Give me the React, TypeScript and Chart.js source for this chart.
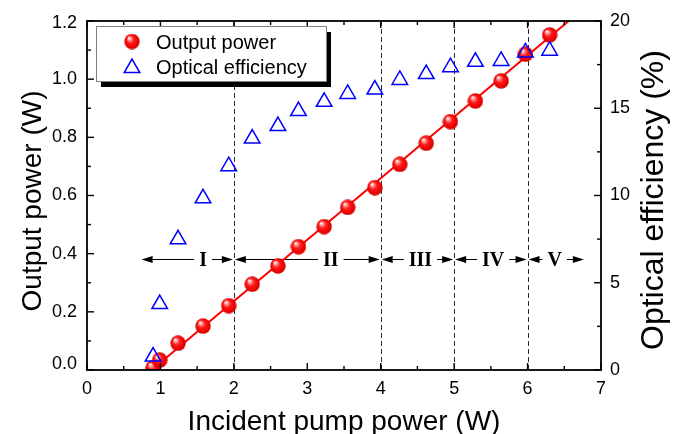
import React, { useEffect, useRef } from 'react';
import { Chart, registerables } from 'chart.js';

Chart.register(...registerables);

// ---- data ----
const pumpPower = [0.9, 0.99, 1.24, 1.58, 1.93, 2.25, 2.6, 2.88, 3.23, 3.55, 3.92, 4.26, 4.62, 4.95, 5.29, 5.64, 5.97, 6.3];
const outputPower = [0.007, 0.034, 0.092, 0.151, 0.221, 0.295, 0.358, 0.424, 0.493, 0.559, 0.627, 0.707, 0.78, 0.854, 0.925, 0.994, 1.086, 1.152];
const efficiency = [0.77, 3.78, 7.49, 9.84, 11.68, 13.26, 13.98, 14.84, 15.37, 15.82, 16.07, 16.62, 16.96, 17.35, 17.66, 17.71, 18.2, 18.3];
const fitPump = [0.88, 6.56];
const fitOutput = [0, 1.2];

const regionNames = ['I', 'II', 'III', 'IV', 'V'];
const regionStart = [0.73, 2, 4, 5, 6];
const regionEnd = [2, 4, 5, 6, 6.78];
const regionLabelPos = [1.58, 3.32, 4.54, 5.53, 6.37];
const regionArrowLevel = 0.38;
const dividers = [2, 4, 5, 6];

const legendLabels = ['Output power', 'Optical efficiency'];
const xTitle = 'Incident pump power (W)';
const yTitle = 'Output power (W)';
const y1Title = 'Optical efficiency (%)';

const SANS = '"Liberation Sans", Arial, sans-serif';
const SERIF = '"Liberation Serif", "Times New Roman", serif';

function makeSphere(r: number): HTMLCanvasElement {
  const c = document.createElement('canvas');
  c.width = r * 2;
  c.height = r * 2;
  const ctx = c.getContext('2d')!;
  const g = ctx.createRadialGradient(r * 0.62, r * 0.55, r * 0.04, r, r, r);
  g.addColorStop(0, '#ffffff');
  g.addColorStop(0.18, '#ff9c9c');
  g.addColorStop(0.45, '#ff1a1a');
  g.addColorStop(0.85, '#e80000');
  g.addColorStop(1, '#b80000');
  ctx.fillStyle = g;
  ctx.beginPath();
  ctx.arc(r, r, r - 0.3, 0, Math.PI * 2);
  ctx.fill();
  return c;
}

function triPath(ctx: CanvasRenderingContext2D, x: number, y: number, r: number) {
  let rad = 0;
  ctx.beginPath();
  ctx.moveTo(x + Math.sin(rad) * r, y - Math.cos(rad) * r);
  rad += (2 * Math.PI) / 3;
  ctx.lineTo(x + Math.sin(rad) * r, y - Math.cos(rad) * r);
  rad += (2 * Math.PI) / 3;
  ctx.lineTo(x + Math.sin(rad) * r, y - Math.cos(rad) * r);
  ctx.closePath();
}

export default function App() {
  const ref = useRef<HTMLCanvasElement | null>(null);

  useEffect(() => {
    if (!ref.current) return;
    const sphere = makeSphere(8);

    const annotations = {
      id: 'annotations',
      beforeDatasetsDraw(chart: any) {
        const { ctx, chartArea, scales } = chart;
        const xs = scales.x;
        const ys = scales.y;
        ctx.save();
        // dashed dividers
        ctx.strokeStyle = '#2a2a2a';
        ctx.lineWidth = 1;
        ctx.setLineDash([5, 3]);
        dividers.forEach((d) => {
          const px = Math.round(xs.getPixelForValue(d)) + 0.5;
          ctx.beginPath();
          ctx.moveTo(px, chartArea.top);
          ctx.lineTo(px, chartArea.bottom);
          ctx.stroke();
        });
        ctx.setLineDash([]);
        // arrows
        const py = Math.round(ys.getPixelForValue(regionArrowLevel)) + 0.5;
        ctx.strokeStyle = '#000';
        ctx.fillStyle = '#000';
        ctx.lineWidth = 1.2;
        const head = (tipX: number, dir: number) => {
          ctx.beginPath();
          ctx.moveTo(tipX, py);
          ctx.lineTo(tipX - dir * 11, py - 3.5);
          ctx.lineTo(tipX - dir * 11, py + 3.5);
          ctx.closePath();
          ctx.fill();
        };
        ctx.font = `bold 20px ${SERIF}`;
        ctx.textAlign = 'center';
        ctx.textBaseline = 'middle';
        regionNames.forEach((name, i) => {
          const x1 = xs.getPixelForValue(regionStart[i]) + 1;
          const x2 = xs.getPixelForValue(regionEnd[i]) - 1;
          ctx.beginPath();
          ctx.moveTo(x1 + 4, py);
          ctx.lineTo(x2 - 4, py);
          ctx.stroke();
          head(x1, -1);
          head(x2, 1);
          const cx = xs.getPixelForValue(regionLabelPos[i]);
          const w = ctx.measureText(name).width;
          ctx.fillStyle = '#fff';
          ctx.fillRect(cx - w / 2 - 5, py - 9, w + 10, 18);
          ctx.fillStyle = '#000';
          ctx.fillText(name, cx, py + 1);
        });
        ctx.restore();
      },
      afterDraw(chart: any) {
        const { ctx, chartArea, scales } = chart;
        const { left, right, top, bottom } = chartArea;
        ctx.save();
        // frame
        ctx.strokeStyle = '#000';
        ctx.lineWidth = 1.8;
        ctx.strokeRect(left, top, right - left, bottom - top);
        // ticks (inward)
        ctx.lineWidth = 1.4;
        const xs = scales.x;
        for (let v = 0; v <= 7.001; v += 0.5) {
          const px = xs.getPixelForValue(v);
          const len = Math.abs(v - Math.round(v)) < 0.01 ? 7 : 4;
          ctx.beginPath();
          ctx.moveTo(px, bottom);
          ctx.lineTo(px, bottom - len);
          ctx.moveTo(px, top);
          ctx.lineTo(px, top + len);
          ctx.stroke();
        }
        const ys = scales.y;
        for (let k = 0; k <= 12; k++) {
          const py = ys.getPixelForValue(k / 10);
          const len = k % 2 === 0 ? 7 : 4;
          ctx.beginPath();
          ctx.moveTo(left, py);
          ctx.lineTo(left + len, py);
          ctx.stroke();
        }
        const y1 = scales.y1;
        for (let k = 0; k <= 8; k++) {
          const py = y1.getPixelForValue(k * 2.5);
          const len = k % 2 === 0 ? 7 : 4;
          ctx.beginPath();
          ctx.moveTo(right, py);
          ctx.lineTo(right - len, py);
          ctx.stroke();
        }
        // end labels of left axis, nudged inward like the reference
        ctx.fillStyle = '#000';
        ctx.font = `18px ${SANS}`;
        ctx.textAlign = 'right';
        ctx.textBaseline = 'middle';
        ctx.fillText((0).toFixed(1), left - 10, ys.getPixelForValue(0) - 6);
        ctx.fillText((1.2).toFixed(1), left - 10, ys.getPixelForValue(1.2) + 2);
        // legend
        const lx = 96, ly = 26, lw = 230, lh = 55;
        ctx.fillStyle = '#000';
        ctx.fillRect(lx + 5, ly + 6, lw, lh);
        ctx.fillStyle = '#fff';
        ctx.fillRect(lx, ly, lw, lh);
        ctx.strokeStyle = '#808080';
        ctx.lineWidth = 1;
        ctx.strokeRect(lx + 0.5, ly + 0.5, lw, lh);
        ctx.drawImage(sphere, 132 - 8, 41.5 - 8);
        ctx.strokeStyle = '#0000ff';
        ctx.lineWidth = 1.5;
        triPath(ctx, 132, 68, 9);
        ctx.stroke();
        ctx.fillStyle = '#000';
        ctx.font = `20px ${SANS}`;
        ctx.textAlign = 'left';
        ctx.textBaseline = 'alphabetic';
        ctx.fillText(legendLabels[0], 156, 48.5);
        ctx.fillText(legendLabels[1], 156, 73.5);
        // axis titles
        ctx.textAlign = 'center';
        ctx.font = `28px ${SANS}`;
        ctx.fillText(xTitle, (left + right) / 2, 430);
        ctx.save();
        ctx.translate(41, 201);
        ctx.rotate(-Math.PI / 2);
        ctx.fillText(yTitle, 0, 0);
        ctx.restore();
        ctx.save();
        ctx.font = `32px ${SANS}`;
        ctx.translate(663, 200);
        ctx.rotate(-Math.PI / 2);
        ctx.fillText(y1Title, 0, 0);
        ctx.restore();
        ctx.restore();
      },
    };

    const tickFont = { family: SANS, size: 18 };
    const chart = new Chart(ref.current, {
      type: 'scatter',
      data: {
        datasets: [
          {
            label: 'Optical efficiency',
            data: pumpPower.map((x, i) => ({ x, y: efficiency[i] })),
            yAxisID: 'y1',
            pointStyle: 'triangle',
            pointRadius: 9,
            pointBorderWidth: 1.5,
            borderColor: '#0000ff',
            pointBorderColor: '#0000ff',
            backgroundColor: 'rgba(0,0,0,0)',
            pointBackgroundColor: 'rgba(0,0,0,0)',
            showLine: false,
            order: 0,
          },
          {
            label: 'Output power',
            data: pumpPower.map((x, i) => ({ x, y: outputPower[i] })),
            yAxisID: 'y',
            pointStyle: sphere as any,
            pointRadius: 8,
            showLine: false,
            clip: 0 as any,
            order: 1,
          },
          {
            label: 'fit',
            type: 'line' as any,
            data: fitPump.map((x, i) => ({ x, y: fitOutput[i] })),
            yAxisID: 'y',
            borderColor: '#ff0000',
            borderWidth: 2,
            pointRadius: 0,
            showLine: true,
            fill: false,
            order: 2,
          },
        ] as any,
      },
      options: {
        responsive: false,
        animation: false,
        layout: { padding: { top: 21, left: 0, right: 0, bottom: 0 } },
        plugins: { legend: { display: false }, tooltip: { enabled: false }, title: { display: false } },
        scales: {
          x: {
            type: 'linear',
            position: 'bottom',
            min: 0,
            max: 7,
            ticks: { stepSize: 1, font: tickFont, color: '#000', padding: 8, maxRotation: 0 },
            grid: { display: false, drawTicks: false },
            border: { display: false },
            afterFit: (s: any) => { s.height = 64; },
          },
          y: {
            type: 'linear',
            position: 'left',
            min: 0,
            max: 1.2,
            ticks: {
              stepSize: 0.2,
              font: tickFont,
              color: '#000',
              padding: 10,
              callback: (v: any) => {
                const n = Number(v);
                if (Math.abs(n) < 1e-6 || Math.abs(n - 1.2) < 1e-6) return '';
                return n.toFixed(1);
              },
            },
            grid: { display: false, drawTicks: false },
            border: { display: false },
            afterFit: (s: any) => { s.width = 87; },
          },
          y1: {
            type: 'linear',
            position: 'right',
            min: 0,
            max: 20,
            ticks: { stepSize: 5, font: tickFont, color: '#000', padding: 9 },
            grid: { display: false, drawTicks: false },
            border: { display: false },
            afterFit: (s: any) => { s.width = 85; },
          },
        },
      } as any,
      plugins: [annotations],
    });
    return () => chart.destroy();
  }, []);

  return (
    <div style={{ position: 'absolute', left: 0, top: 0, width: 686, height: 434, background: '#fff' }}>
      <canvas ref={ref} width={686} height={434} style={{ width: 686, height: 434, display: 'block' }} />
    </div>
  );
}
